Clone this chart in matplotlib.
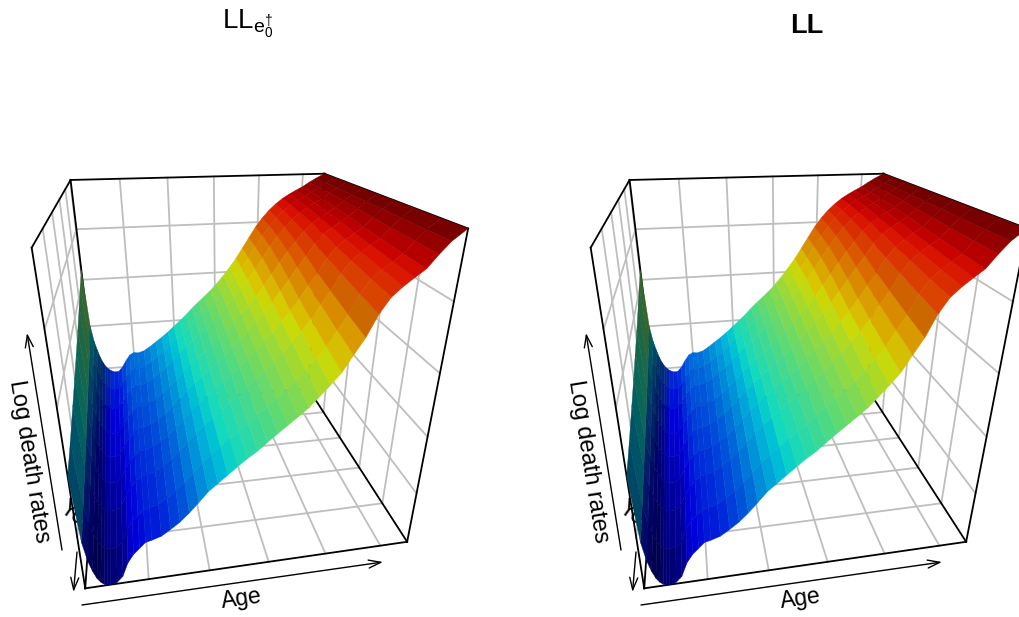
import numpy as np
import matplotlib
matplotlib.use('Agg')
from matplotlib import pyplot as plt
from matplotlib import cm

plt.rcParams['font.family'] = ['Liberation Sans', 'DejaVu Sans']
plt.rcParams['mathtext.fontset'] = 'custom'
plt.rcParams['mathtext.rm'] = 'Liberation Sans'
plt.rcParams['mathtext.it'] = 'Liberation Sans'
plt.rcParams['mathtext.bf'] = 'Liberation Sans:bold'

# log death rates
ages = [0, 1, 2, 3, 4, 5, 6, 7, 8, 10, 12, 14, 16, 18, 20, 22, 25, 28, 31, 34, 37, 40, 43, 46, 49, 52, 55,
        58, 61, 64, 67, 70, 73, 76, 79, 82, 85, 88, 91, 94, 97, 100, 103, 106, 110]
years = [1959, 1965, 1971, 1978, 1984, 1990, 1996, 2003, 2009]

# one line per age, one value per year
log_m_by_age = [
    [-3.60, -3.91, -4.25, -4.61, -4.90, -5.18, -5.45, -5.76, -6.00],
    [-6.00, -6.29, -6.59, -6.92, -7.19, -7.45, -7.69, -7.98, -8.20],
    [-6.70, -6.99, -7.29, -7.62, -7.89, -8.15, -8.39, -8.68, -8.90],
    [-7.10, -7.39, -7.69, -8.02, -8.29, -8.55, -8.79, -9.08, -9.30],
    [-7.45, -7.73, -8.03, -8.34, -8.60, -8.86, -9.09, -9.37, -9.58],
    [-7.70, -7.97, -8.25, -8.56, -8.81, -9.05, -9.28, -9.55, -9.75],
    [-7.88, -8.14, -8.41, -8.71, -8.94, -9.18, -9.40, -9.65, -9.85],
    [-8.00, -8.25, -8.51, -8.80, -9.03, -9.25, -9.46, -9.71, -9.90],
    [-8.10, -8.33, -8.59, -8.86, -9.07, -9.29, -9.49, -9.72, -9.90],
    [-8.20, -8.41, -8.65, -8.89, -9.09, -9.29, -9.47, -9.69, -9.85],
    [-8.20, -8.39, -8.59, -8.81, -8.98, -9.16, -9.32, -9.51, -9.65],
    [-8.00, -8.15, -8.32, -8.49, -8.63, -8.77, -8.90, -9.05, -9.17],
    [-7.70, -7.85, -8.02, -8.20, -8.34, -8.48, -8.61, -8.76, -8.88],
    [-7.45, -7.61, -7.78, -7.97, -8.12, -8.27, -8.40, -8.57, -8.69],
    [-7.35, -7.50, -7.66, -7.83, -7.97, -8.11, -8.24, -8.39, -8.50],
    [-7.38, -7.52, -7.67, -7.83, -7.96, -8.09, -8.20, -8.34, -8.45],
    [-7.30, -7.44, -7.58, -7.74, -7.87, -7.99, -8.11, -8.25, -8.35],
    [-7.12, -7.25, -7.40, -7.55, -7.68, -7.80, -7.91, -8.05, -8.15],
    [-6.92, -7.05, -7.19, -7.34, -7.47, -7.59, -7.70, -7.83, -7.93],
    [-6.72, -6.84, -6.97, -7.11, -7.22, -7.33, -7.44, -7.56, -7.65],
    [-6.50, -6.61, -6.72, -6.85, -6.95, -7.05, -7.14, -7.25, -7.33],
    [-6.26, -6.33, -6.41, -6.52, -6.62, -6.72, -6.82, -6.92, -7.00],
    [-6.02, -6.09, -6.17, -6.28, -6.38, -6.48, -6.58, -6.68, -6.76],
    [-5.77, -5.85, -5.92, -6.03, -6.13, -6.24, -6.33, -6.44, -6.52],
    [-5.49, -5.57, -5.65, -5.77, -5.87, -5.98, -6.08, -6.19, -6.28],
    [-5.24, -5.32, -5.40, -5.52, -5.63, -5.74, -5.85, -5.96, -6.05],
    [-5.00, -5.09, -5.17, -5.30, -5.41, -5.53, -5.64, -5.76, -5.85],
    [-4.75, -4.84, -4.92, -5.05, -5.16, -5.28, -5.39, -5.51, -5.60],
    [-4.47, -4.51, -4.59, -4.71, -4.84, -4.99, -5.11, -5.25, -5.36],
    [-4.15, -4.20, -4.28, -4.41, -4.56, -4.72, -4.86, -5.01, -5.13],
    [-3.81, -3.86, -3.95, -4.10, -4.27, -4.44, -4.59, -4.77, -4.90],
    [-3.45, -3.51, -3.61, -3.78, -3.96, -4.15, -4.32, -4.51, -4.66],
    [-3.03, -3.10, -3.20, -3.39, -3.59, -3.80, -3.99, -4.20, -4.36],
    [-2.61, -2.68, -2.80, -3.00, -3.21, -3.45, -3.65, -3.88, -4.05],
    [-2.19, -2.27, -2.39, -2.60, -2.83, -3.08, -3.29, -3.54, -3.72],
    [-1.84, -1.91, -2.02, -2.22, -2.43, -2.66, -2.86, -3.08, -3.25],
    [-1.55, -1.61, -1.71, -1.89, -2.08, -2.28, -2.45, -2.65, -2.80],
    [-1.31, -1.35, -1.43, -1.55, -1.68, -1.83, -1.95, -2.09, -2.20],
    [-1.11, -1.14, -1.20, -1.29, -1.39, -1.50, -1.59, -1.70, -1.78],
    [-0.95, -0.98, -1.03, -1.11, -1.19, -1.29, -1.37, -1.46, -1.53],
    [-0.81, -0.84, -0.88, -0.95, -1.02, -1.11, -1.18, -1.26, -1.32],
    [-0.68, -0.70, -0.74, -0.80, -0.86, -0.94, -1.00, -1.07, -1.12],
    [-0.52, -0.53, -0.55, -0.59, -0.63, -0.67, -0.71, -0.75, -0.78],
    [-0.37, -0.38, -0.38, -0.40, -0.42, -0.43, -0.45, -0.47, -0.48],
    [-0.20, -0.20, -0.20, -0.20, -0.20, -0.20, -0.20, -0.20, -0.20],
]

age_ticks = [20, 40, 60, 80, 100]
year_ticks = [1960, 1970, 1980, 1990, 2000]
z_ticks = [-8, -6, -4, -2]
age_lim = (0, 110)
year_lim = (2009, 1959)
z_lim = (-9.9, -0.2)

panel_titles = [r'$\mathrm{LL}_{\mathrm{e}_0^{\dagger}}$', 'LL']
GRID = '#BEBEBE'


def facet_colors(X, Y, Z):
    # jet on the mean of each cell, darkened by a simple light
    zc = (Z[:-1, :-1] + Z[1:, :-1] + Z[:-1, 1:] + Z[1:, 1:]) / 4
    col = cm.jet((zc - z_lim[0]) / (z_lim[1] - z_lim[0]))
    sx = (X - age_lim[0]) / (age_lim[1] - age_lim[0])
    sy = (Y - year_lim[0]) / (year_lim[1] - year_lim[0])
    sz = (Z - z_lim[0]) / (z_lim[1] - z_lim[0])
    a = np.dstack([sx[1:, 1:] - sx[:-1, :-1], sy[1:, 1:] - sy[:-1, :-1], sz[1:, 1:] - sz[:-1, :-1]])
    b = np.dstack([sx[1:, :-1] - sx[:-1, 1:], sy[1:, :-1] - sy[:-1, 1:], sz[1:, :-1] - sz[:-1, 1:]])
    n = np.cross(a, b)
    n = n / np.linalg.norm(n, axis=2, keepdims=True)
    n = n * np.sign(n[:, :, 2:3])
    light = np.array([-0.3, -0.4, 0.85])
    shade = np.clip(0.40 + 0.62 * (n @ light), 0.40, 0.85)
    col[:, :, :3] = col[:, :, :3] * shade[:, :, None]
    return col


def draw_box(ax):
    x0, x1 = age_lim
    y0, y1 = year_lim
    z0, z1 = z_lim
    grid_kw = dict(color=GRID, lw=1.3, zorder=1, clip_on=False)
    for a in age_ticks:
        ax.plot([a, a], [y0, y1], [z0, z0], **grid_kw)
        ax.plot([a, a], [y1, y1], [z0, z1], **grid_kw)
    for y in year_ticks:
        ax.plot([x0, x1], [y, y], [z0, z0], **grid_kw)
        ax.plot([x0, x0], [y, y], [z0, z1], **grid_kw)
        ax.plot([x1, x1], [y, y], [z0, z1], **grid_kw)
    for z in z_ticks:
        ax.plot([x0, x1], [y1, y1], [z, z], **grid_kw)
        ax.plot([x0, x0], [y0, y1], [z, z], **grid_kw)
        ax.plot([x1, x1], [y0, y1], [z, z], **grid_kw)
    edge_kw = dict(color='black', lw=1.3, zorder=2, clip_on=False)
    edges = [((x0, y0, z0), (x1, y0, z0)), ((x0, y0, z0), (x0, y1, z0)), ((x1, y0, z0), (x1, y1, z0)),
             ((x0, y1, z0), (x1, y1, z0)), ((x0, y0, z0), (x0, y0, z1)), ((x1, y0, z0), (x1, y0, z1)),
             ((x0, y1, z0), (x0, y1, z1)), ((x1, y1, z0), (x1, y1, z1)), ((x0, y1, z1), (x1, y1, z1)),
             ((x0, y0, z1), (x0, y1, z1)), ((x1, y0, z1), (x1, y1, z1))]
    for p, q in edges:
        ax.plot([p[0], q[0]], [p[1], q[1]], [p[2], q[2]], **edge_kw)


fig = plt.figure(figsize=(10.19, 6.17), dpi=100)
Z = np.array(log_m_by_age).T
X, Y = np.meshgrid(ages, years)
colors = facet_colors(X, Y, Z)

# pixels of the two panels
panel_dx = [0, 559]
side = 600
for i, dx in enumerate(panel_dx):
    left = 225 + dx - 0.5135 * side
    bottom = 271 - 0.5135 * side
    ax = fig.add_axes([left / 1019, bottom / 617, side / 1019, side / 617],
                      projection='3d', computed_zorder=False)
    ax.set_axis_off()
    ax.patch.set_alpha(0)
    ax.set_box_aspect((1, 1, 1), zoom=484 / side)
    ax.set_proj_type('persp', focal_length=0.2035 * 484 / side)
    ax.view_init(elev=25.2, azim=-100.2)
    draw_box(ax)
    surf = ax.plot_surface(X, Y, Z, facecolors=colors, rstride=1, cstride=1, shade=False,
                           linewidth=0.3, antialiased=True, zorder=3, clip_on=False)
    surf.set_edgecolor(colors.reshape(-1, 4))
    ax.set_xlim(age_lim[0], age_lim[1], view_margin=0)
    ax.set_ylim(year_lim[0], year_lim[1], view_margin=0)
    ax.set_zlim(z_lim[0], z_lim[1], view_margin=0)

# axis arrows and labels in picture pixels
under = fig.add_axes([0, 0, 1, 1], zorder=-1)
over = fig.add_axes([0, 0, 1, 1], zorder=5)
for a in (under, over):
    a.set_xlim(0, 1019)
    a.set_ylim(617, 0)
    a.axis('off')
    a.patch.set_alpha(0)

arrow_kw = dict(arrowstyle='->,head_length=0.55,head_width=0.18', color='black', lw=1, mutation_scale=16,
                shrinkA=0, shrinkB=0)
for i, dx in enumerate(panel_dx):
    over.annotate('', xy=(383 + dx, 562), xytext=(82 + dx, 605), arrowprops=arrow_kw)
    over.annotate('', xy=(27 + dx, 333), xytext=(62 + dx, 550), arrowprops=arrow_kw)
    over.annotate('', xy=(73.5 + dx, 592), xytext=(77 + dx, 552), arrowprops=arrow_kw)
    over.text(242 + dx, 599, 'Age', fontsize=16.5, rotation=8, ha='center', va='center')
    over.text(29 + dx, 461, 'Log death rates', fontsize=17, rotation=-80.8, ha='center', va='center',
              rotation_mode='anchor')
    under.text(62 + dx, 506, 'Year', fontsize=16.5, rotation=-35, ha='left', va='center',
               rotation_mode='anchor')

over.text(248, 24, panel_titles[0], fontsize=20, ha='center', va='center')
over.text(807, 26, panel_titles[1], fontsize=19.5, fontweight='bold', ha='center', va='center')

fig.savefig('out.png', dpi=100)
